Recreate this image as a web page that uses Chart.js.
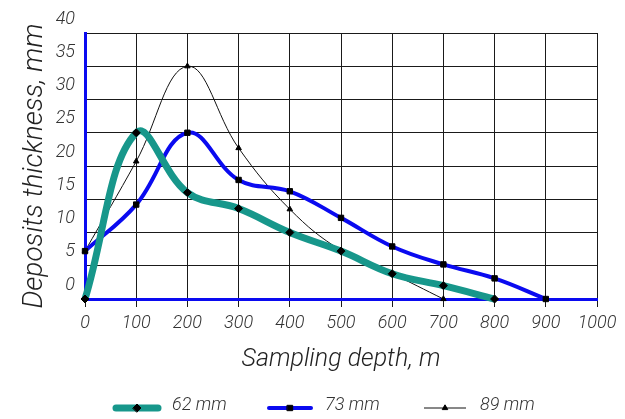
<!DOCTYPE html>
<html>
<head>
<meta charset="utf-8">
<script src="https://cdn.jsdelivr.net/npm/chart.js@4.4.0/dist/chart.umd.min.js"></script>
<style>
  html, body { margin: 0; padding: 0; background: #fff; }
</style>
</head>
<body>
<canvas id="depthChart" width="625" height="419"></canvas>
<script>
// ---------- data ----------
const depths = [0, 100, 200, 300, 400, 500, 600, 700, 800, 900];
const thick62 = [0, 25, 16, 13.6, 10, 7.2, 3.8, 2, 0];
const thick73 = [7.2, 14.2, 25, 17.9, 16.2, 12.2, 7.9, 5.2, 3.1, 0];
const thick89 = [7.2, 20.7, 35, 22.7, 13.5, 7.3, 3.8, 0];
const seriesNames = ["62 mm", "73 mm", "89 mm"];
const xRange = [0, 1000];
const yRange = [0, 40];

const FONT = "Roboto, 'Liberation Sans', sans-serif";
const TEXT = "#333";

// pair depths with values
const pts = (vals) => vals.map((v, i) => ({ x: depths[i], y: v }));

// legend under the axis title: line sample + marker + label
const legendBelow = {
  id: "legendBelow",
  afterDraw(chart) {
    const ctx = chart.ctx;
    const y = 408;
    const starts = [116, 269, 424];
    chart.data.datasets.forEach((ds, i) => {
      const x0 = starts[i], len = 42;
      ctx.save();
      ctx.strokeStyle = ds.borderColor;
      ctx.lineWidth = ds.borderWidth;
      ctx.lineCap = ds.borderWidth > 2 ? "round" : "butt";
      ctx.beginPath();
      ctx.moveTo(x0, y);
      ctx.lineTo(x0 + len, y);
      ctx.stroke();
      ctx.fillStyle = "#000";
      ctx.strokeStyle = "#000";
      ctx.lineWidth = 1;
      Chart.helpers.drawPoint(ctx, {
        pointStyle: ds.pointStyle, radius: ds.pointRadius, rotation: 0, borderWidth: 1
      }, x0 + len / 2, y);
      ctx.fillStyle = TEXT;
      ctx.font = "italic 300 18px " + FONT;
      ctx.textBaseline = "middle";
      ctx.fillText(seriesNames[i], x0 + len + 14, y - 3);
      ctx.restore();
    });
  }
};

new Chart(document.getElementById("depthChart"), {
  type: "line",
  data: {
    datasets: [
      {
        label: seriesNames[0], data: pts(thick62),
        borderColor: "#17978b", borderWidth: 7, tension: 0.4,
        pointStyle: "rectRot", pointRadius: 4,
        pointBackgroundColor: "#000", pointBorderColor: "#000", pointBorderWidth: 1, clip: false
      },
      {
        label: seriesNames[1], data: pts(thick73),
        borderColor: "#0a0af0", borderWidth: 4, tension: 0.4,
        pointStyle: "rect", pointRadius: 3.8,
        pointBackgroundColor: "#000", pointBorderColor: "#000", pointBorderWidth: 1, clip: false
      },
      {
        label: seriesNames[2], data: pts(thick89),
        borderColor: "#111", borderWidth: 1, tension: 0.4,
        pointStyle: "triangle", pointRadius: 3.2,
        pointBackgroundColor: "#000", pointBorderColor: "#000", pointBorderWidth: 1, clip: false
      }
    ]
  },
  options: {
    responsive: false,
    animation: false,
    layout: { padding: { top: 33, right: 28, left: 0, bottom: 0 } },
    plugins: { legend: { display: false }, tooltip: { enabled: false } },
    scales: {
      x: {
        type: "linear", min: xRange[0], max: xRange[1],
        afterFit: (s) => { s.height = 120; },
        grid: { color: "#1a1a1a", lineWidth: 1, tickLength: 8, tickColor: "#1a1a1a" },
        border: { color: "#0a0af0", width: 3 },
        ticks: {
          stepSize: 100, padding: 6, color: TEXT, maxRotation: 0,
          callback: (v) => String(v),
          font: { family: FONT, size: 18, style: "italic", weight: 300 }
        },
        title: {
          display: true, text: "Sampling depth, m", color: "#222",
          font: { family: FONT, size: 25, style: "italic", weight: 300 },
          padding: { top: 0, bottom: 44 }
        }
      },
      y: {
        min: yRange[0], max: yRange[1],
        afterFit: (s) => { s.width = 85; },
        grid: { color: "#1a1a1a", lineWidth: 1, drawTicks: false },
        border: { color: "#0a0af0", width: 3 },
        ticks: {
          stepSize: 5, padding: 10, labelOffset: -14, color: TEXT,
          font: { family: FONT, size: 18, style: "italic", weight: 300 }
        },
        title: {
          display: true, text: "Deposits thickness, mm", color: "#222",
          font: { family: FONT, size: 28, style: "italic", weight: 300 },
          padding: { top: 18, bottom: 0 }
        }
      }
    }
  },
  plugins: [legendBelow]
});
</script>
</body>
</html>
